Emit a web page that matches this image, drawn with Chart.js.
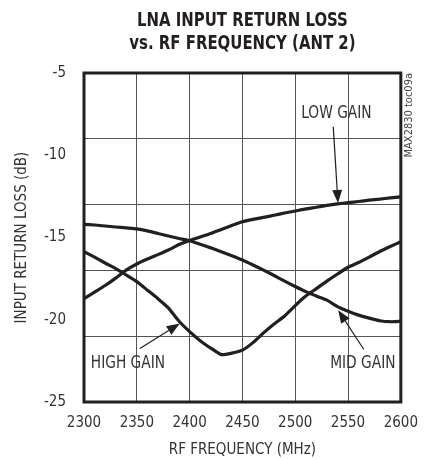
<!DOCTYPE html>
<html>
<head>
<meta charset="utf-8">
<script src="https://cdn.jsdelivr.net/npm/chart.js@4.4.1/dist/chart.umd.min.js"></script>
<style>
  html, body { margin: 0; padding: 0; background: #fff; }
</style>
</head>
<body>
<canvas id="lineChart" width="430" height="459"></canvas>
<script>
// values
const freqMHz = [2300, 2310, 2320, 2330, 2340, 2350, 2360, 2370, 2380, 2390, 2400,
                 2410, 2420, 2430, 2440, 2450, 2460, 2470, 2480, 2490, 2500,
                 2510, 2520, 2530, 2540, 2550, 2560, 2570, 2580, 2590, 2600];
const lowGain = [-18.72, -18.32, -17.92, -17.47, -16.98, -16.61, -16.31, -16.04, -15.76, -15.43, -15.18,
                 -14.97, -14.76, -14.51, -14.27, -14.04, -13.90, -13.78, -13.65, -13.51, -13.39,
                 -13.26, -13.16, -13.05, -12.96, -12.88, -12.81, -12.73, -12.67, -12.59, -12.53];
const midGain = [-14.20, -14.24, -14.30, -14.36, -14.42, -14.48, -14.60, -14.76, -14.91, -15.06, -15.20,
                 -15.41, -15.63, -15.87, -16.11, -16.37, -16.67, -16.98, -17.31, -17.65, -17.98,
                 -18.29, -18.56, -18.81, -19.20, -19.48, -19.72, -19.90, -20.06, -20.12, -20.09];
const highGain = [-15.86, -16.19, -16.55, -16.89, -17.28, -17.68, -18.20, -18.72, -19.29, -20.09, -20.72,
                  -21.27, -21.72, -22.12, -22.03, -21.85, -21.39, -20.80, -20.26, -19.77, -19.14,
                  -18.56, -18.11, -17.65, -17.22, -16.81, -16.52, -16.19, -15.85, -15.55, -15.26];

const xTickValues = [2300, 2350, 2400, 2450, 2500, 2550, 2600];
const yLabelValues = [-25, -20, -15, -10, -5];
const yGridValues = [-25, -21, -17, -13, -9, -5];

const titleLines = ['LNA INPUT RETURN LOSS', 'vs. RF FREQUENCY (ANT 2)'];
const sideNote = 'MAX2830 toc09a';

// callouts in data units: label centre, arrow tail, arrow tip
const callouts = [
    { text: 'LOW GAIN',  at: [2539, -7.44],  from: [2536, -8.27],  to: [2540.5, -12.90] },
    { text: 'HIGH GAIN', at: [2341.6, -22.66], from: [2352.9, -21.75], to: [2390.7, -20.23] },
    { text: 'MID GAIN',  at: [2564, -22.66], from: [2565, -21.81], to: [2540.7, -19.42] }
];

const ink = '#231f20';
const cond = '"DejaVu Sans Condensed", "Liberation Sans Narrow", sans-serif';

function pairs(ys) {
    return freqMHz.map((f, i) => ({ x: f, y: ys[i] }));
}

// text squeezed horizontally, the reference uses a condensed face
function squeezed(ctx, text, x, y, sx) {
    ctx.save();
    ctx.translate(x, y);
    ctx.scale(sx, 1);
    ctx.fillText(text, 0, 0);
    ctx.restore();
}

function drawArrow(ctx, x0, y0, x1, y1) {
    const ang = Math.atan2(y1 - y0, x1 - x0);
    const len = 13, half = 5;
    const bx = x1 - len * Math.cos(ang), by = y1 - len * Math.sin(ang);
    ctx.beginPath();
    ctx.moveTo(x0, y0);
    ctx.lineTo(bx, by);
    ctx.lineWidth = 1.2;
    ctx.stroke();
    ctx.beginPath();
    ctx.moveTo(x1, y1);
    ctx.lineTo(bx + half * Math.sin(ang), by - half * Math.cos(ang));
    ctx.lineTo(bx - half * Math.sin(ang), by + half * Math.cos(ang));
    ctx.closePath();
    ctx.fill();
}

const overlay = {
    id: 'overlay',
    afterDraw(chart) {
        const { ctx, chartArea: a, scales: { x, y } } = chart;
        ctx.save();
        ctx.strokeStyle = ink;
        ctx.fillStyle = ink;

        // plot frame
        ctx.lineWidth = 3;
        ctx.strokeRect(a.left, a.top, a.right - a.left, a.bottom - a.top);

        // title
        const cx = (a.left + a.right) / 2;
        ctx.font = 'bold 20px ' + cond;
        ctx.textAlign = 'center';
        ctx.textBaseline = 'middle';
        squeezed(ctx, titleLines[0], cx, 21, 0.83);
        squeezed(ctx, titleLines[1], cx, 44, 0.83);

        // callouts
        ctx.font = '17px ' + cond;
        ctx.fillStyle = '#333';
        callouts.forEach(c => {
            squeezed(ctx, c.text, x.getPixelForValue(c.at[0]), y.getPixelForValue(c.at[1]), 0.9);
        });
        ctx.fillStyle = ink;
        callouts.forEach(c => {
            drawArrow(ctx,
                x.getPixelForValue(c.from[0]), y.getPixelForValue(c.from[1]),
                x.getPixelForValue(c.to[0]), y.getPixelForValue(c.to[1]));
        });

        // side note
        ctx.save();
        ctx.translate(a.right + 8.5, a.top);
        ctx.rotate(-Math.PI / 2);
        ctx.font = '11px ' + cond;
        ctx.fillStyle = '#444';
        ctx.textAlign = 'right';
        ctx.textBaseline = 'middle';
        ctx.fillText(sideNote, 0, 0);
        ctx.restore();

        ctx.restore();
    }
};

const curveStyle = { borderColor: ink, borderWidth: 3.2, pointRadius: 0, tension: 0.15, fill: false };

const ctx = document.getElementById('lineChart').getContext('2d');
const lineChart = new Chart(ctx, {
    type: 'line',
    data: {
        datasets: [
            { label: 'LOW GAIN', data: pairs(lowGain), ...curveStyle },
            { label: 'MID GAIN', data: pairs(midGain), ...curveStyle },
            { label: 'HIGH GAIN', data: pairs(highGain), ...curveStyle }
        ]
    },
    options: {
        responsive: false,
        animation: false,
        devicePixelRatio: 1,
        layout: { padding: { top: 73, right: 16, left: 0, bottom: 0 } },
        plugins: { legend: { display: false }, tooltip: { enabled: false }, title: { display: false } },
        scales: {
            x: {
                type: 'linear',
                min: 2300,
                max: 2600,
                afterBuildTicks: s => { s.ticks = xTickValues.map(v => ({ value: v })); },
                afterFit: s => { s.height = 57; },
                ticks: {
                    color: '#333',
                    font: { family: cond, size: 15 },
                    padding: 12,
                    autoSkip: false,
                    maxRotation: 0,
                    callback: v => String(v)
                },
                grid: { color: '#555', lineWidth: 1, drawTicks: false },
                border: { display: false },
                title: {
                    display: true,
                    text: 'RF FREQUENCY (MHz)',
                    color: '#333',
                    font: { family: cond, size: 15 },
                    padding: { top: 0, bottom: 0 }
                }
            },
            y: {
                min: -25,
                max: -5,
                afterBuildTicks: s => {
                    const all = [...new Set([...yLabelValues, ...yGridValues])].sort((p, q) => p - q);
                    s.ticks = all.map(v => ({ value: v }));
                },
                afterFit: s => { s.width = 84; },
                ticks: {
                    color: '#333',
                    font: { family: cond, size: 15 },
                    padding: 18,
                    autoSkip: false,
                    callback: v => yLabelValues.includes(v) ? String(v) : ''
                },
                grid: {
                    color: c => (c.tick && yGridValues.includes(c.tick.value)) ? '#555' : 'rgba(0,0,0,0)',
                    lineWidth: 1,
                    drawTicks: false
                },
                border: { display: false },
                title: {
                    display: true,
                    text: 'INPUT RETURN LOSS (dB)',
                    color: '#333',
                    font: { family: cond, size: 15 },
                    padding: { top: 13, bottom: 0 }
                }
            }
        }
    },
    plugins: [overlay]
});
</script>
</body>
</html>
